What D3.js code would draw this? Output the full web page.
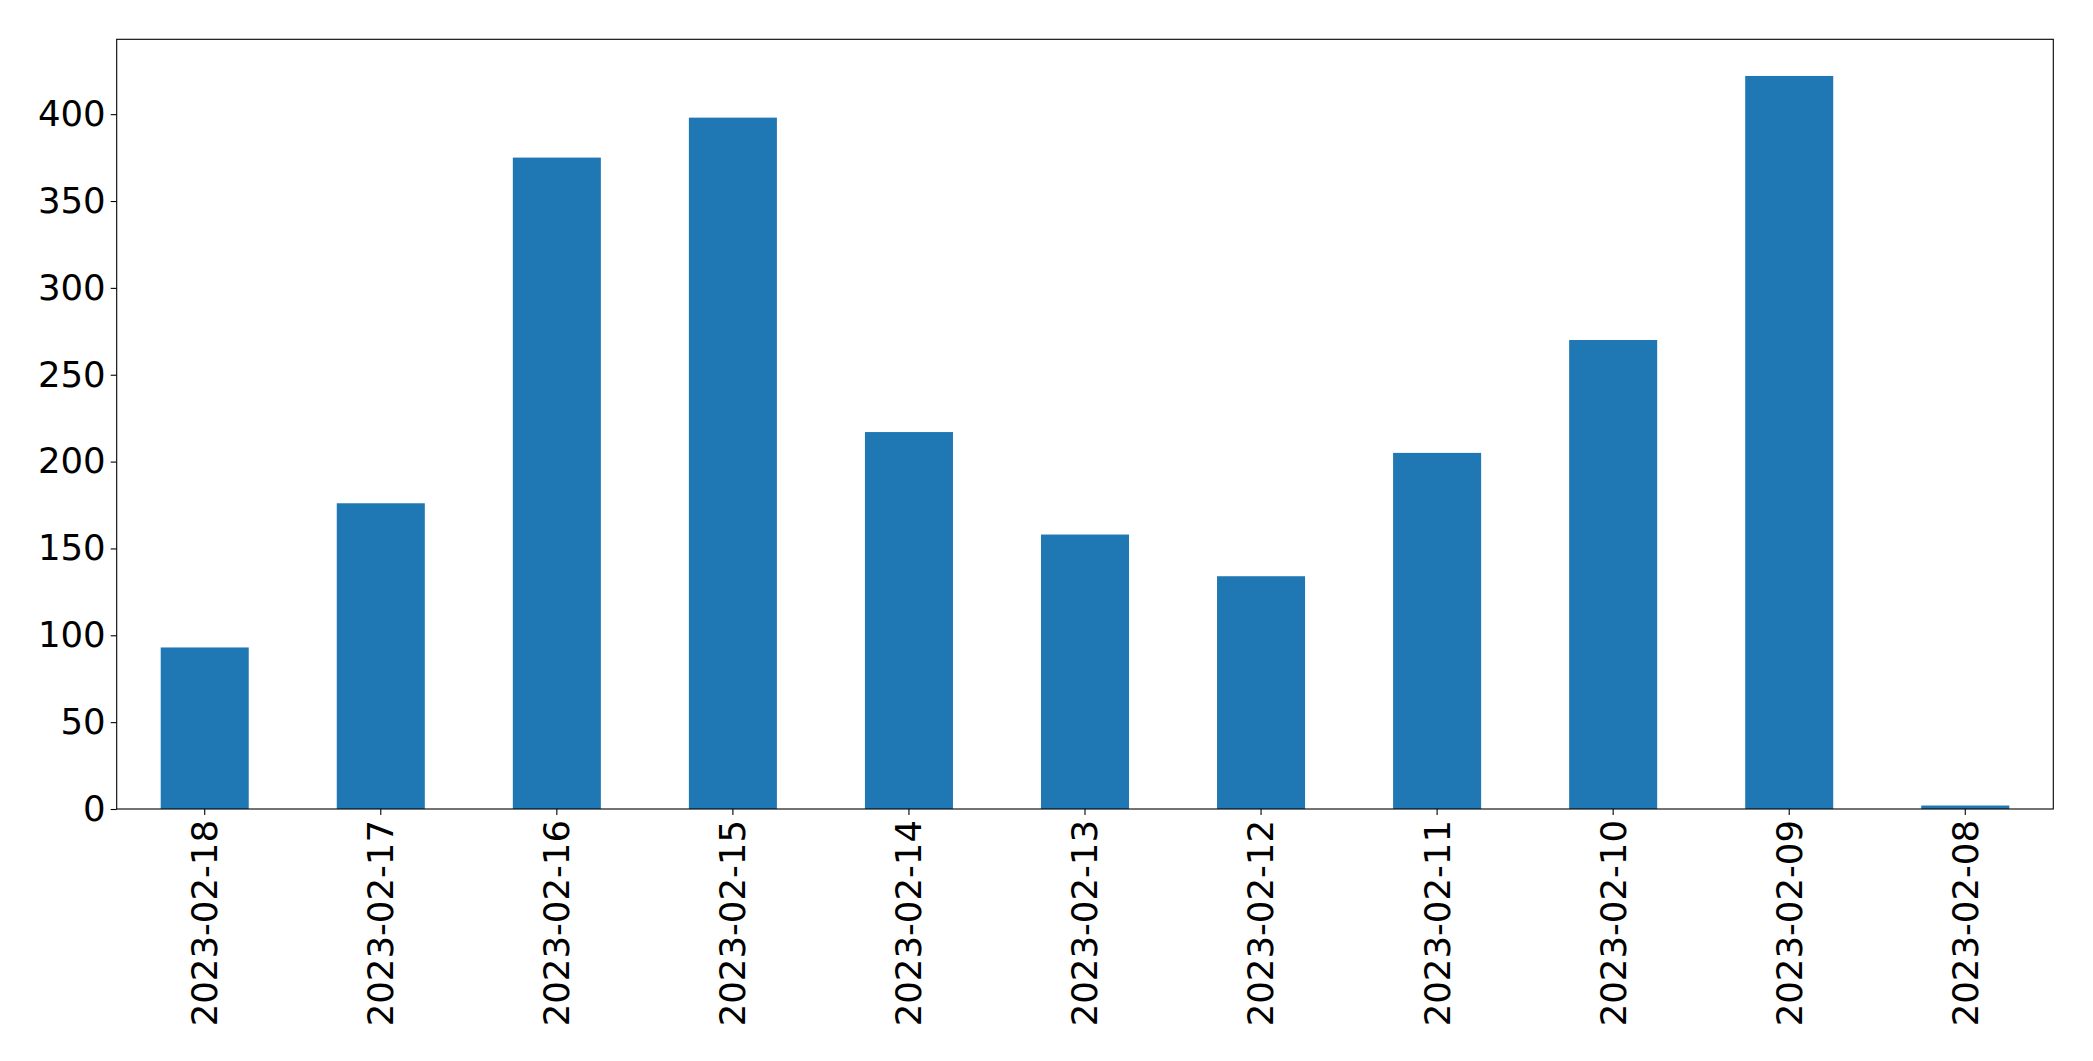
<!DOCTYPE html>
<html>
<head>
<meta charset="utf-8">
<script src="https://cdn.jsdelivr.net/npm/d3@7"></script>
<style>
  html, body { margin: 0; padding: 0; background: #fff; }
  svg { display: block; }
  text { font-family: "DejaVu Sans", sans-serif; }
</style>
</head>
<body>
<svg id="chart" width="2093" height="1061"></svg>
<script>
const categories = ["2023-02-18","2023-02-17","2023-02-16","2023-02-15","2023-02-14","2023-02-13","2023-02-12","2023-02-11","2023-02-10","2023-02-09","2023-02-08"];
const values = [93, 176, 375, 398, 217, 158, 134, 205, 270, 422, 2];
const yTicks = [0, 50, 100, 150, 200, 250, 300, 350, 400];

const W = 2093, H = 1061;
const margin = { left: 116.7, right: W - 2053.3, top: 39.3, bottom: H - 809 };
const svg = d3.select("#chart");
const innerW = W - margin.left - margin.right;
const innerH = H - margin.top - margin.bottom;
const g = svg.append("g").attr("transform", `translate(${margin.left},${margin.top})`);

const x = d3.scaleBand().domain(categories).range([0, innerW]).paddingInner(0.5).paddingOuter(0.25);
const yMax = d3.max(values) * 1.05;
const y = d3.scaleLinear().domain([0, yMax]).range([innerH, 0]);

g.selectAll("rect.bar").data(values).enter().append("rect")
  .attr("class", "bar")
  .attr("x", (d, i) => x(categories[i]))
  .attr("width", x.bandwidth())
  .attr("y", d => y(d))
  .attr("height", d => y(0) - y(d))
  .attr("fill", "#1f77b4");

const yAxis = g.append("g").call(d3.axisLeft(y).tickValues(yTicks).tickSize(6).tickPadding(5).tickFormat(d3.format("d")));
const xAxis = g.append("g").attr("transform", `translate(0,${innerH})`)
  .call(d3.axisBottom(x).tickSize(6).tickPadding(6));

[yAxis, xAxis].forEach(a => {
  a.select(".domain").remove();
  a.selectAll(".tick line").attr("stroke", "#000").attr("stroke-width", 1.1);
  a.selectAll("text").attr("font-size", 35.5).attr("fill", "#000").attr("font-family", "DejaVu Sans, sans-serif");
});

xAxis.selectAll(".tick text")
  .attr("transform", "rotate(-90)")
  .attr("text-anchor", "end")
  .attr("dy", "0.35em")
  .attr("x", -11)
  .attr("y", 0);

// frame
g.append("rect").attr("x", 0).attr("y", 0).attr("width", innerW).attr("height", innerH)
  .attr("fill", "none").attr("stroke", "#000").attr("stroke-width", 1.1);
</script>
</body>
</html>
